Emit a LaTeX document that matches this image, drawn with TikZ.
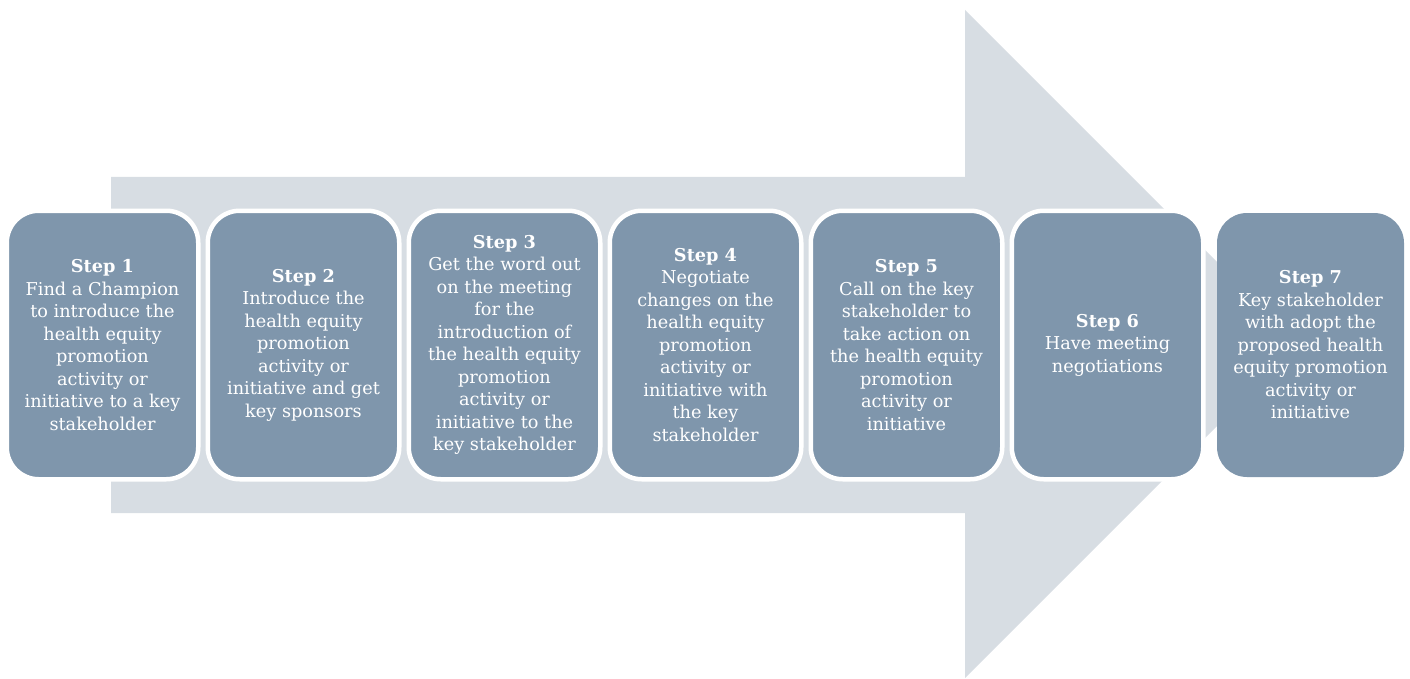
\documentclass[tikz,border=0pt]{standalone}
\usepackage{fontspec}
\setmainfont{DejaVu Serif}
\usetikzlibrary{positioning}
\definecolor{stepfill}{HTML}{7F96AC}
\definecolor{shaftgray}{HTML}{D7DDE3}

\begin{document}
\begin{tikzpicture}[
    x=1pt, y=-1pt,
    node distance=9.5pt,
    stepbox/.style={fill=stepfill, draw=white, line width=4.5pt, rounded corners=32pt,
      outer sep=0pt, inner sep=0pt, minimum width=191.5pt, minimum height=268.5pt,
      align=center, text=white, font=\fontsize{17.7}{22.5}\selectfont},
    lastbox/.style={stepbox, draw=none, rounded corners=30pt, minimum width=187pt, minimum height=264pt}
  ]
    \useasboundingbox (0,0) rectangle (1410,679);
    \fill[shaftgray] (111,177) -- (965,177) -- (965,10) -- (1299,344) -- (965,678) -- (965,513) -- (111,513) -- cycle;

    \node[stepbox] (s1) at (102.5,345) {\textbf{Step 1}\\Find a Champion\\to introduce the\\health equity\\promotion\\activity or\\initiative to a key\\stakeholder};
    \node[stepbox, right=of s1] (s2) {\textbf{Step 2}\\Introduce the\\health equity\\promotion\\activity or\\initiative and get\\key sponsors};
    \node[stepbox, right=of s2] (s3) {\textbf{Step 3}\\Get the word out\\on the meeting\\for the\\introduction of\\the health equity\\promotion\\activity or\\initiative to the\\key stakeholder};
    \node[stepbox, right=of s3] (s4) {\textbf{Step 4}\\Negotiate\\changes on the\\health equity\\promotion\\activity or\\initiative with\\the key\\stakeholder};
    \node[stepbox, right=of s4] (s5) {\textbf{Step 5}\\Call on the key\\stakeholder to\\take action on\\the health equity\\promotion\\activity or\\initiative};
    \node[stepbox, right=of s5] (s6) {\textbf{Step 6}\\Have meeting\\negotiations};
    \node[lastbox, right=13.75pt of s6] (s7) {\textbf{Step 7}\\Key stakeholder\\with adopt the\\proposed health\\equity promotion\\activity or\\initiative};
\end{tikzpicture}
\end{document}
